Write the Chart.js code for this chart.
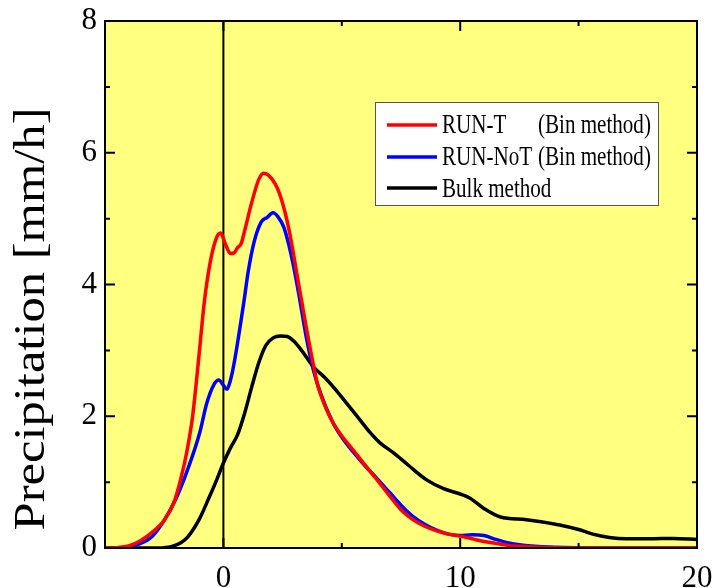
<!DOCTYPE html>
<html>
<head>
<meta charset="utf-8">
<script src="https://cdn.jsdelivr.net/npm/chart.js@4.4.1/dist/chart.umd.min.js"></script>
<style>
  html, body { margin: 0; padding: 0; background: #fff; }
  canvas { display: block; }
</style>
</head>
<body>
<canvas id="chart" width="716" height="588"></canvas>
<script>
// Precipitation profiles — RUN-T / RUN-NoT (bin) vs bulk method

const seriesNames = ['RUN-T', 'RUN-NoT', 'Bulk method'];
const methodTags  = ['(Bin method)', '(Bin method)', ''];

const runTx = [-5, -4.5, -4, -3.5, -3, -2.5, -2.1, -1.8, -1.55, -1.3, -1.05, -0.8, -0.55, -0.3, -0.12, 0.1, 0.3, 0.45,
  0.6, 0.75, 0.9, 1.2, 1.5, 1.7, 1.9, 2.2, 2.4, 2.6, 2.8, 3.0, 3.2, 3.5, 3.8, 4.0, 4.3, 4.6, 5, 5.5, 6, 6.5, 7, 7.5, 8,
  8.5, 9, 9.5, 10, 10.5, 11, 11.5, 12, 12.5, 13, 14, 16, 20];
const runTy = [0, 0.005, 0.03, 0.11, 0.24, 0.42, 0.68, 1.05, 1.45, 2.0, 2.85, 3.75, 4.35, 4.7, 4.78, 4.6, 4.47, 4.48,
  4.56, 4.62, 4.82, 5.25, 5.6, 5.69, 5.66, 5.52, 5.35, 5.1, 4.78, 4.38, 3.96, 3.35, 2.78, 2.45, 2.15, 1.92, 1.7, 1.48,
  1.25, 1.03, 0.8, 0.58, 0.43, 0.33, 0.26, 0.21, 0.18, 0.14, 0.1, 0.07, 0.04, 0.025, 0.015, 0.005, 0, 0];

const runNoTx = [-5, -4.5, -4, -3.5, -3, -2.5, -2, -1.5, -1, -0.7, -0.4, -0.2, 0, 0.15, 0.3, 0.45, 0.85, 1.05, 1.3,
  1.6, 1.85, 2.1, 2.3, 2.55, 2.75, 2.95, 3.2, 3.5, 3.8, 4.1, 4.6, 5, 5.5, 6, 6.5, 7, 7.5, 8, 8.5, 9, 9.5, 10, 10.5, 11,
  11.5, 12, 12.5, 13, 14, 16, 20];
const runNoTy = [0, 0.003, 0.015, 0.07, 0.18, 0.42, 0.75, 1.2, 1.75, 2.2, 2.48, 2.55, 2.47, 2.41, 2.55, 2.8, 3.7, 4.2,
  4.65, 4.95, 5.02, 5.09, 5.03, 4.87, 4.62, 4.3, 3.82, 3.2, 2.7, 2.35, 1.92, 1.68, 1.45, 1.24, 1.05, 0.85, 0.65, 0.48,
  0.36, 0.27, 0.21, 0.19, 0.2, 0.19, 0.13, 0.08, 0.05, 0.03, 0.01, 0, 0];

const bulkX = [-5, -3, -2.5, -2.2, -1.8, -1.5, -1, -0.6, -0.3, 0, 0.3, 0.6, 0.9, 1.2, 1.5, 1.8, 2.1, 2.4, 2.7, 3.0, 3.3,
  3.8, 4.3, 4.7, 5.2, 5.8, 6.2, 6.6, 7.2, 7.8, 8.6, 9.3, 10, 10.4, 11, 11.7, 12.8, 14.2, 15, 15.6, 16.3, 17, 18, 19, 20];
const bulkY = [0, 0, 0.005, 0.02, 0.08, 0.17, 0.45, 0.77, 1.02, 1.29, 1.52, 1.72, 2.05, 2.45, 2.82, 3.08, 3.19, 3.22, 3.21,
  3.13, 3.0, 2.75, 2.58, 2.42, 2.2, 1.93, 1.75, 1.6, 1.44, 1.26, 1.03, 0.9, 0.82, 0.76, 0.6, 0.47, 0.43, 0.35, 0.28, 0.21,
  0.16, 0.14, 0.14, 0.145, 0.13];

const xMajor = [0, 10, 20], xMinor = [5, 15];
const yMajor = [0, 2, 4, 6, 8], yMinor = [1, 3, 5, 7];

const pts = (xs, ys) => xs.map((x, i) => ({ x, y: ys[i] }));
const FONT = 'Liberation Serif';

const framePlugin = {
  id: 'frame',
  beforeDraw(chart) {
    const { ctx, chartArea: a } = chart;
    ctx.save();
    ctx.fillStyle = '#ffff80';
    ctx.fillRect(a.left, a.top, a.right - a.left, a.bottom - a.top);
    ctx.restore();
  },
  afterDraw(chart) {
    const { ctx, chartArea: a, scales } = chart;
    const xs = scales.x, ys = scales.y;
    ctx.save();
    ctx.strokeStyle = '#000';
    ctx.lineWidth = 2;
    ctx.strokeRect(a.left, a.top, a.right - a.left, a.bottom - a.top);

    // inward ticks on all four sides
    ctx.beginPath();
    const tickX = (v, len) => {
      const p = xs.getPixelForValue(v);
      ctx.moveTo(p, a.bottom); ctx.lineTo(p, a.bottom - len);
      ctx.moveTo(p, a.top); ctx.lineTo(p, a.top + len);
    };
    const tickY = (v, len) => {
      const p = ys.getPixelForValue(v);
      ctx.moveTo(a.left, p); ctx.lineTo(a.left + len, p);
      ctx.moveTo(a.right, p); ctx.lineTo(a.right - len, p);
    };
    xMajor.forEach(v => tickX(v, 10));
    xMinor.forEach(v => tickX(v, 5));
    yMajor.forEach(v => tickY(v, 10));
    yMinor.forEach(v => tickY(v, 5));
    ctx.stroke();

    // y axis title (stretched along its length like the original)
    ctx.save();
    ctx.translate(44, 319);
    ctx.rotate(-Math.PI / 2);
    ctx.scale(1.15, 1);
    ctx.fillStyle = '#000';
    ctx.font = '44px "' + FONT + '"';
    ctx.textAlign = 'center';
    ctx.textBaseline = 'alphabetic';
    ctx.fillText('Precipitation [mm/h]', 0, 0);
    ctx.restore();

    // legend box
    ctx.fillStyle = '#fff';
    ctx.fillRect(375, 102, 283, 103);
    ctx.strokeStyle = '#555';
    ctx.lineWidth = 1;
    ctx.strokeRect(375.5, 102.5, 283, 103);
    const lineY = [125, 157, 188], baseY = [133, 165, 197];
    chart.data.datasets.slice(0, 3).forEach((ds, i) => {
      ctx.strokeStyle = ds.borderColor;
      ctx.lineWidth = 3.5;
      ctx.beginPath();
      ctx.moveTo(387, lineY[i]); ctx.lineTo(437, lineY[i]);
      ctx.stroke();
      ctx.fillStyle = '#000';
      ctx.font = '27px "' + FONT + '"';
      ctx.textBaseline = 'alphabetic';
      ctx.textAlign = 'left';
      const put = (txt, x) => {
        ctx.save(); ctx.translate(x, baseY[i]); ctx.scale(0.78, 1);
        ctx.fillText(txt, 0, 0); ctx.restore();
      };
      put(seriesNames[i], 442);
      if (methodTags[i]) put(methodTags[i], 538);
    });
    ctx.restore();
  }
};

const lineStyle = (color, w) => ({
  borderColor: color, borderWidth: w, pointRadius: 0, fill: false,
  cubicInterpolationMode: 'monotone'
});

new Chart(document.getElementById('chart'), {
  type: 'line',
  data: {
    datasets: [
      { label: seriesNames[0], data: pts(runTx, runTy), ...lineStyle('#ff0000', 3.5) },
      { label: seriesNames[1], data: pts(runNoTx, runNoTy), ...lineStyle('#0000ff', 3.5) },
      { label: seriesNames[2], data: pts(bulkX, bulkY), ...lineStyle('#000000', 3.5) },
      { label: 'zero', data: [{ x: 0, y: 0 }, { x: 0, y: 8 }], borderColor: '#000', borderWidth: 2, pointRadius: 0 }
    ]
  },
  options: {
    responsive: false,
    animation: false,
    devicePixelRatio: 1,
    layout: { padding: { left: 0, top: 21, right: 19, bottom: 0 } },
    plugins: { legend: { display: false }, tooltip: { enabled: false } },
    scales: {
      x: {
        type: 'linear', min: -5, max: 20,
        grid: { display: false, drawTicks: false },
        border: { display: false },
        ticks: {
          stepSize: 5, autoSkip: false, maxRotation: 0, padding: 12, color: '#000',
          font: { family: FONT, size: 31 },
          callback: v => (v % 10 === 0 ? v : '')
        },
        afterFit(s) { s.height = 40; s.paddingLeft = 0; s.paddingRight = 0; }
      },
      y: {
        min: 0, max: 8,
        grid: { display: false, drawTicks: false },
        border: { display: false },
        ticks: { stepSize: 2, padding: 8, color: '#000', font: { family: FONT, size: 31 } },
        afterFit(s) { s.width = 105; s.paddingTop = 0; s.paddingBottom = 0; }
      }
    }
  },
  plugins: [framePlugin]
});
</script>
</body>
</html>
